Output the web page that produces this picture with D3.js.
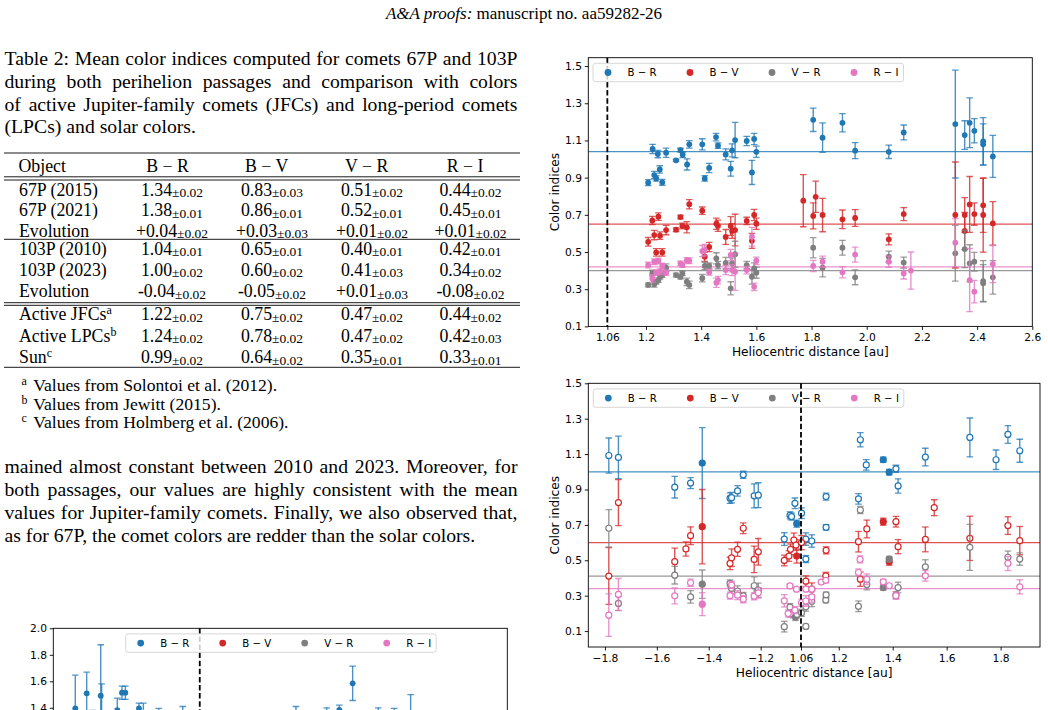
<!DOCTYPE html>
<html><head><meta charset="utf-8">
<script src="https://cdn.jsdelivr.net/npm/d3@7"></script>
<style>body{margin:0;background:#fff}svg{display:block}</style>
</head><body><svg id="page" width="1048" height="710"></svg>
<script>
// ---------------- DATA ----------------
const SERIES_KEYS = ["BR", "BV", "VR", "RI"];
const LEGEND_LABELS = ["B − R", "B − V", "V − R", "R − I"];
const SERIES_COLORS = ["#1f77b4", "#d62728", "#7f7f7f", "#e377c2"];

// Chart A: 103P 2010 passage  [heliocentric distance, colour, error]
const A_BR = [[1.208,0.873,0.016],[1.224,1.054,0.025],[1.230,0.914,0.02],[1.237,0.896,0.015],[1.243,1.027,0.02],[1.250,0.944,0.02],[1.259,0.875,0.016],[1.273,1.034,0.025],[1.309,0.993,0.006],[1.325,1.048,0.01],[1.333,1.023,0.015],[1.349,0.971,0.03],[1.357,1.079,0.02],[1.404,1.079,0.03],[1.413,0.896,0.015],[1.429,0.952,0.025],[1.454,1.118,0.02],[1.461,1.072,0.015],[1.489,1.025,0.03],[1.507,0.948,0.04],[1.512,1.047,0.035],[1.523,1.102,0.095],[1.565,1.097,0.025],[1.584,0.928,0.065],[1.592,1.108,0.03],[1.600,1.039,0.03],[1.806,1.211,0.063],[1.840,1.115,0.079],[1.912,1.195,0.049],[1.958,1.045,0.043],[2.080,1.039,0.036],[2.134,1.143,0.04],[2.321,1.188,0.29],[2.355,1.129,0.077],[2.373,1.195,0.134],[2.390,1.152,0.065],[2.422,1.095,0.128],[2.422,1.079,0.11],[2.457,1.014,0.113]];
const A_BV = [[1.208,0.555,0.023],[1.223,0.670,0.022],[1.230,0.591,0.025],[1.237,0.498,0.02],[1.245,0.690,0.02],[1.251,0.588,0.02],[1.259,0.498,0.02],[1.273,0.618,0.025],[1.309,0.620,0.01],[1.325,0.688,0.01],[1.332,0.640,0.015],[1.348,0.633,0.03],[1.357,0.757,0.025],[1.404,0.722,0.02],[1.413,0.475,0.025],[1.429,0.527,0.025],[1.455,0.652,0.03],[1.461,0.641,0.03],[1.489,0.581,0.04],[1.507,0.640,0.05],[1.512,0.613,0.04],[1.523,0.618,0.085],[1.565,0.667,0.02],[1.584,0.560,0.04],[1.592,0.699,0.03],[1.600,0.652,0.03],[1.770,0.776,0.14],[1.806,0.694,0.07],[1.815,0.797,0.084],[1.840,0.699,0.09],[1.912,0.676,0.05],[1.958,0.683,0.045],[2.080,0.568,0.03],[2.134,0.704,0.035],[2.321,0.699,0.285],[2.355,0.699,0.093],[2.355,0.613,0.1],[2.373,0.756,0.15],[2.390,0.704,0.06],[2.422,0.751,0.145],[2.422,0.699,0.2],[2.457,0.654,0.117]];
const A_VR = [[1.208,0.323,0.01],[1.223,0.387,0.015],[1.230,0.326,0.015],[1.237,0.340,0.012],[1.245,0.349,0.012],[1.251,0.367,0.012],[1.259,0.376,0.012],[1.273,0.416,0.02],[1.309,0.376,0.01],[1.325,0.366,0.01],[1.332,0.385,0.012],[1.348,0.340,0.02],[1.357,0.323,0.02],[1.404,0.359,0.02],[1.413,0.425,0.02],[1.429,0.426,0.015],[1.455,0.466,0.03],[1.461,0.430,0.02],[1.489,0.441,0.03],[1.507,0.305,0.035],[1.512,0.439,0.03],[1.523,0.488,0.07],[1.565,0.430,0.02],[1.584,0.367,0.04],[1.592,0.412,0.03],[1.600,0.389,0.03],[1.806,0.523,0.054],[1.840,0.416,0.05],[1.912,0.523,0.04],[1.958,0.364,0.04],[2.080,0.475,0.03],[2.134,0.443,0.03],[2.321,0.493,0.15],[2.355,0.516,0.1],[2.373,0.439,0.1],[2.390,0.448,0.05],[2.422,0.344,0.11],[2.422,0.332,0.1],[2.457,0.364,0.09]];
const A_RI = [[1.208,0.430,0.015],[1.223,0.358,0.02],[1.230,0.448,0.015],[1.237,0.389,0.015],[1.245,0.452,0.015],[1.251,0.394,0.015],[1.259,0.425,0.015],[1.273,0.389,0.015],[1.325,0.439,0.012],[1.332,0.430,0.012],[1.348,0.455,0.015],[1.357,0.453,0.015],[1.404,0.505,0.03],[1.413,0.511,0.03],[1.429,0.391,0.015],[1.455,0.335,0.025],[1.461,0.349,0.02],[1.489,0.403,0.025],[1.507,0.484,0.03],[1.512,0.403,0.03],[1.523,0.394,0.1],[1.565,0.403,0.02],[1.584,0.582,0.05],[1.592,0.313,0.02],[1.600,0.453,0.02],[1.806,0.425,0.03],[1.840,0.448,0.03],[1.912,0.391,0.03],[1.958,0.486,0.04],[2.080,0.448,0.03],[2.134,0.385,0.03],[2.160,0.400,0.1],[2.321,0.550,0.13],[2.373,0.349,0.17],[2.390,0.287,0.06],[2.457,0.435,0.1]];
const A_MEANS = [1.04, 0.65, 0.40, 0.42];
const A_XTICKS = [1.06, 1.2, 1.4, 1.6, 1.8, 2.0, 2.2, 2.4, 2.6];
const A_YTICKS = [0.1, 0.3, 0.5, 0.7, 0.9, 1.1, 1.3, 1.5];

// Chart B: 103P 2023 passage [signed distance (pre-perihelion < 0), colour, error, filled]
const B_BR = [[-1.785,1.092,0.099,0],[-1.748,1.081,0.12,0],[-1.531,0.913,0.061,0],[-1.470,0.936,0.031,0],[-1.425,1.049,0.2,1],[-1.318,0.851,0.03,0],[-1.312,0.854,0.03,0],[-1.289,0.892,0.03,0],[-1.267,0.983,0.02,0],[-1.225,0.864,0.068,0],[-1.209,0.868,0.07,0],[-1.109,0.620,0.036,0],[-1.087,0.754,0.02,0],[-1.081,0.747,0.02,0],[-1.068,0.822,0.03,0],[-1.061,0.707,0.02,1],[1.062,0.766,0.03,0],[1.078,0.620,0.035,0],[1.100,0.609,0.035,0],[1.078,0.507,0.02,0],[1.153,0.860,0.02,0],[1.153,0.686,0.015,0],[1.280,1.181,0.04,0],[1.273,0.847,0.03,0],[1.302,1.039,0.03,0],[1.365,1.068,0.015,1],[1.387,0.998,0.015,1],[1.412,1.017,0.02,0],[1.420,0.920,0.04,0],[1.521,1.083,0.05,0],[1.686,1.194,0.11,0],[1.783,1.068,0.055,0],[1.827,1.211,0.05,0],[1.871,1.119,0.065,0]];
const B_BV = [[-1.785,0.411,0.16,0],[-1.748,0.826,0.13,0],[-1.531,0.492,0.077,0],[-1.488,0.564,0.04,0],[-1.470,0.639,0.05,0],[-1.425,0.690,0.21,1],[-1.318,0.482,0.035,0],[-1.312,0.514,0.05,0],[-1.289,0.562,0.04,0],[-1.267,0.681,0.03,0],[-1.225,0.505,0.075,0],[-1.209,0.548,0.075,0],[-1.109,0.499,0.03,0],[-1.091,0.524,0.03,0],[-1.085,0.562,0.03,0],[-1.072,0.614,0.04,0],[-1.064,0.586,0.03,0],[-1.061,0.524,0.04,1],[1.062,0.600,0.04,0],[1.078,0.382,0.03,0],[1.100,0.337,0.035,0],[1.153,0.556,0.02,0],[1.152,0.412,0.02,0],[1.273,0.605,0.058,0],[1.280,0.393,0.04,0],[1.304,0.677,0.05,0],[1.365,0.718,0.02,1],[1.387,0.492,0.02,1],[1.412,0.718,0.03,0],[1.420,0.577,0.04,0],[1.521,0.618,0.07,0],[1.554,0.797,0.045,0],[1.686,0.624,0.125,0],[1.827,0.696,0.05,0],[1.871,0.611,0.08,0]];
const B_VR = [[-1.785,0.681,0.105,0],[-1.748,0.256,0.04,0],[-1.531,0.416,0.05,0],[-1.470,0.293,0.035,0],[-1.425,0.365,0.08,1],[-1.318,0.369,0.02,0],[-1.312,0.341,0.03,0],[-1.289,0.325,0.03,0],[-1.267,0.299,0.02,0],[-1.225,0.356,0.05,0],[-1.209,0.331,0.04,0],[-1.109,0.125,0.03,0],[-1.087,0.235,0.02,0],[-1.085,0.200,0.02,0],[-1.075,0.195,0.02,0],[-1.066,0.180,0.02,1],[-1.060,0.194,0.02,0],[1.062,0.203,0.02,0],[1.078,0.237,0.025,0],[1.078,0.126,0.012,0],[1.100,0.268,0.03,0],[1.152,0.275,0.015,0],[1.153,0.305,0.015,0],[1.273,0.240,0.03,0],[1.280,0.784,0.02,0],[1.304,0.363,0.03,0],[1.365,0.346,0.015,1],[1.387,0.507,0.015,1],[1.412,0.303,0.02,0],[1.420,0.346,0.03,0],[1.521,0.463,0.04,0],[1.686,0.573,0.13,0],[1.827,0.517,0.035,0],[1.871,0.507,0.035,0]];
const B_RI = [[-1.785,0.190,0.12,0],[-1.748,0.307,0.09,0],[-1.531,0.299,0.045,0],[-1.470,0.373,0.02,0],[-1.425,0.252,0.065,1],[-1.318,0.300,0.02,0],[-1.312,0.360,0.02,0],[-1.289,0.303,0.025,0],[-1.267,0.280,0.02,0],[-1.225,0.297,0.02,0],[-1.209,0.316,0.03,0],[-1.109,0.271,0.035,0],[-1.094,0.199,0.02,0],[-1.087,0.355,0.01,0],[-1.068,0.218,0.02,0],[-1.062,0.337,0.01,0],[1.062,0.260,0.02,0],[1.078,0.337,0.01,0],[1.078,0.270,0.03,0],[1.100,0.337,0.01,0],[1.100,0.293,0.03,0],[1.135,0.377,0.01,0],[1.152,0.387,0.015,0],[1.273,0.431,0.02,0],[1.279,0.505,0.02,0],[1.304,0.393,0.03,0],[1.365,0.378,0.015,0],[1.387,0.356,0.01,0],[1.412,0.300,0.02,0],[1.521,0.412,0.03,0],[1.827,0.482,0.04,0],[1.871,0.350,0.04,0]];
const B_MEANS = [1.00, 0.60, 0.41, 0.34];
const B_XTICKS = [-1.8, -1.6, -1.4, -1.2, 1.06, 1.2, 1.4, 1.6, 1.8];
const B_YTICKS = [0.1, 0.3, 0.5, 0.7, 0.9, 1.1, 1.3, 1.5];

// Chart C (only its top is visible on the page, 67P): [offset from perihelion line, B-R, error]
const C_BR = [[-0.85,1.396,0.25],[-0.772,1.509,0.16],[-0.731,1.30,0.08],[-0.676,1.491,0.385],[-0.67,1.36,0.22],[-0.563,1.383,0.09],[-0.531,1.514,0.05],[-0.508,1.514,0.05],[-0.415,1.396,0.04],[-0.385,1.36,0.075],[-0.28,1.30,0.095],[-0.116,1.30,0.11],[0.657,1.33,0.08],[0.867,1.34,0.06],[0.953,1.385,0.035],[1.044,1.585,0.13],[1.219,1.34,0.06],[1.328,1.36,0.035],[1.44,1.30,0.2]];
const C_YTICKS = [1.4, 1.6, 1.8, 2.0];

// Text content
const HEADER_ITALIC = "A&A proofs:";
const HEADER_REST = " manuscript no. aa59282-26";
const CAPTION_LINES = ["Table 2: Mean color indices computed for comets 67P and 103P",
  "during both perihelion passages and comparison with colors",
  "of active Jupiter-family comets (JFCs) and long-period comets",
  "(LPCs) and solar colors."];
const BODY_LINES = ["mained almost constant between 2010 and 2023. Moreover, for",
  "both passages, our values are highly consistent with the mean",
  "values for Jupiter-family comets. Finally, we also observed that,",
  "as for 67P, the comet colors are redder than the solar colors."];
const TABLE_HEAD = ["Object", "B − R", "B − V", "V − R", "R − I"];
const TABLE_OBJECTS = [["67P (2015)",""],["67P (2021)",""],["Evolution",""],["103P (2010)",""],["103P (2023)",""],["Evolution",""],["Active JFCs","a"],["Active LPCs","b"],["Sun","c"]];
const TABLE_VALUES = [
  [["1.34","0.02"],["0.83","0.03"],["0.51","0.02"],["0.44","0.02"]],
  [["1.38","0.01"],["0.86","0.01"],["0.52","0.01"],["0.45","0.01"]],
  [["+0.04","0.02"],["+0.03","0.03"],["+0.01","0.02"],["+0.01","0.02"]],
  [["1.04","0.01"],["0.65","0.01"],["0.40","0.01"],["0.42","0.01"]],
  [["1.00","0.02"],["0.60","0.02"],["0.41","0.03"],["0.34","0.02"]],
  [["-0.04","0.02"],["-0.05","0.02"],["+0.01","0.03"],["-0.08","0.02"]],
  [["1.22","0.02"],["0.75","0.02"],["0.47","0.02"],["0.44","0.02"]],
  [["1.24","0.02"],["0.78","0.02"],["0.47","0.02"],["0.42","0.03"]],
  [["0.99","0.02"],["0.64","0.02"],["0.35","0.01"],["0.33","0.01"]]];
const FOOTNOTES = [["a","Values from Solontoi et al. (2012)."],["b","Values from Jewitt (2015)."],["c","Values from Holmberg et al. (2006)."]];

// ---------------- DRAW ----------------
const svg = d3.select("#page");
const SERIF = "'Liberation Serif','Times New Roman',serif";
const SANS = "'DejaVu Sans',sans-serif";

// header
svg.append("text").attr("x", 524).attr("y", 19).attr("text-anchor", "middle")
  .style("font-family", SERIF).style("font-size", "17px")
  .call(t => { t.append("tspan").style("font-style", "italic").text(HEADER_ITALIC); t.append("tspan").text(HEADER_REST); });

function textLine(str, x, y, w, size, justify) {
  if (!justify) {
    svg.append("text").attr("x", x).attr("y", y).style("font-family", SERIF).style("font-size", size + "px").text(str);
    return;
  }
  const words = str.split(" ");
  const nodes = words.map(wd => svg.append("text").attr("y", y).style("font-family", SERIF).style("font-size", size + "px").text(wd));
  const widths = nodes.map(n => n.node().getComputedTextLength());
  const gap = (w - d3.sum(widths)) / (words.length - 1);
  let cx = x;
  nodes.forEach((n, i) => { n.attr("x", cx); cx += widths[i] + gap; });
}
CAPTION_LINES.forEach((l, i) => textLine(l, 4.5, 65 + i * 22.8, 513, 19.7, i < CAPTION_LINES.length - 1));
BODY_LINES.forEach((l, i) => textLine(l, 4.5, 472.5 + i * 23, 513, 19.7, i < BODY_LINES.length - 1));

// table
const TBL_SIZE = 17.8;
const colCenters = [172, 272, 372, 470.5];
const headCenters = [167.5, 266.7, 366.7, 465];
const rowBase = [195.5, 216, 236.5, 254.5, 275.5, 297, 320, 341.5, 363];
[153, 176.8, 180, 239.3, 302.7, 305.3, 367.3].forEach(yy =>
  svg.append("line").attr("x1", 4).attr("x2", 520).attr("y1", yy).attr("y2", yy).attr("stroke", "#000").attr("stroke-width", 0.9));
svg.append("text").attr("x", 18.5).attr("y", 171.5).style("font-family", SERIF).style("font-size", TBL_SIZE + "px").text(TABLE_HEAD[0]);
TABLE_HEAD.slice(1).forEach((h, i) => svg.append("text").attr("x", headCenters[i]).attr("y", 171.5).attr("text-anchor", "middle")
  .style("font-family", SERIF).style("font-size", TBL_SIZE + "px").text(h));
TABLE_OBJECTS.forEach(([name, sup], r) => {
  const t = svg.append("text").attr("x", 19).attr("y", rowBase[r]).style("font-family", SERIF).style("font-size", TBL_SIZE + "px");
  t.append("tspan").text(name);
  if (sup) t.append("tspan").attr("dy", -6).style("font-size", "12px").text(sup);
  TABLE_VALUES[r].forEach(([v, e], c) => {
    const tv = svg.append("text").attr("x", colCenters[c]).attr("y", rowBase[r]).attr("text-anchor", "middle")
      .style("font-family", SERIF).style("font-size", TBL_SIZE + "px");
    tv.append("tspan").text(v);
    tv.append("tspan").attr("dy", 1.5).style("font-size", "13.5px").text("±" + e);
  });
});
FOOTNOTES.forEach(([s, txt], i) => {
  const yy = 391 + i * 18.5;
  svg.append("text").attr("x", 21.5).attr("y", yy - 6).style("font-family", SERIF).style("font-size", "12px").text(s);
  svg.append("text").attr("x", 33.3).attr("y", yy).style("font-family", SERIF).style("font-size", "17.6px").text(txt);
});

// charts
function drawChart(cfg) {
  const { x, y, x0, x1, y0, y1 } = cfg;
  const g = svg.append("g");
  const clipId = "clip" + cfg.id;
  svg.append("clipPath").attr("id", clipId).append("rect").attr("x", x0).attr("y", y0).attr("width", x1 - x0).attr("height", y1 - y0);
  const plot = g.append("g").attr("clip-path", `url(#${clipId})`);
  if (cfg.means) cfg.means.forEach((m, i) => plot.append("line").attr("x1", x0).attr("x2", x1).attr("y1", y(m)).attr("y2", y(m))
    .attr("stroke", SERIES_COLORS[i]).attr("stroke-width", 1.2).attr("stroke-opacity", 0.8));
  const drawDash = () => g.append("line").attr("x1", x(cfg.dashX)).attr("x2", x(cfg.dashX)).attr("y1", y0).attr("y2", y1)
    .attr("stroke", "#000").attr("stroke-width", 1.8).attr("stroke-dasharray", "5.5,2.6");
  if (!cfg.dashOnTop) drawDash();
  cfg.series.forEach((data, i) => {
    if (!data) return;
    const col = SERIES_COLORS[i];
    const sg = plot.append("g");
    data.forEach(d => {
      const px = x(d[0]), pt = y(d[1] + d[2]), pb = y(d[1] - d[2]);
      sg.append("line").attr("x1", px).attr("x2", px).attr("y1", pt).attr("y2", pb).attr("stroke", col).attr("stroke-width", 1.4).attr("stroke-opacity", 0.8);
      [pt, pb].forEach(py => sg.append("line").attr("x1", px - 3.3).attr("x2", px + 3.3).attr("y1", py).attr("y2", py)
        .attr("stroke", col).attr("stroke-width", 1.3).attr("stroke-opacity", 0.75));
    });
    sg.selectAll("circle").data(data).join("circle")
      .attr("cx", d => x(d[0])).attr("cy", d => y(d[1])).attr("r", cfg.open ? 3 : 2.9)
      .attr("fill", d => (!cfg.open || d[3]) ? col : "#fff")
      .attr("stroke", col).attr("stroke-width", cfg.open ? 1.2 : 0);
  });
  g.append("rect").attr("x", x0).attr("y", y0).attr("width", x1 - x0).attr("height", y1 - y0)
    .attr("fill", "none").attr("stroke", "#000").attr("stroke-width", 0.9);
  const yAx = g.append("g").attr("transform", `translate(${x0},0)`)
    .call(d3.axisLeft(y).tickValues(cfg.yticks).tickSize(3.5).tickPadding(2.8).tickFormat(d3.format(".1f")));
  const axes = [yAx];
  if (cfg.xticks) {
    const xAx = g.append("g").attr("transform", `translate(0,${y1})`)
      .call(d3.axisBottom(x).tickValues(cfg.xticks).tickSize(3.5).tickPadding(3.5)
        .tickFormat(d => Math.abs(d) === 1.06 ? d3.format(".2f")(d) : d3.format(".1f")(d)));
    axes.push(xAx);
    g.append("text").attr("x", (x0 + x1) / 2).attr("y", y1 + 29.5).attr("text-anchor", "middle")
      .style("font-family", SANS).style("font-size", "12.2px").text("Heliocentric distance [au]");
  }
  axes.forEach(a => {
    a.select(".domain").remove();
    a.selectAll("line").attr("stroke", "#000").attr("stroke-width", 0.9);
    a.selectAll("text").style("font-family", SANS).style("font-size", "10.7px").attr("fill", "#000");
  });
  if (cfg.ylabel) {
    const cy = (y0 + y1) / 2;
    g.append("text").attr("transform", `translate(${x0 - 29},${cy}) rotate(-90)`).attr("text-anchor", "middle")
      .style("font-family", SANS).style("font-size", "12.2px").text("Color indices");
  }
  const lx = cfg.legendX, ly = y0 + 5.6, lw = 310.5, lh = 18.4;
  const lg = g.append("g");
  lg.append("rect").attr("x", lx).attr("y", ly).attr("width", lw).attr("height", lh).attr("rx", 2.5)
    .attr("fill", "#fff").attr("fill-opacity", 0.8).attr("stroke", "#d3d3d3").attr("stroke-width", 0.9);
  LEGEND_LABELS.forEach((lab, i) => {
    lg.append("circle").attr("cx", lx + 15 + i * 82).attr("cy", ly + lh / 2).attr("r", 3.4).attr("fill", SERIES_COLORS[i]);
    lg.append("text").attr("x", lx + 34.5 + i * 82).attr("y", ly + lh / 2 + 3.7)
      .style("font-family", SANS).style("font-size", "10.2px").text(lab);
  });
  if (cfg.dashOnTop) drawDash();
}

drawChart({
  id: "A",
  x: d3.scaleLinear().domain([0.991, 2.6]).range([588.3, 1032.3]),
  y: d3.scaleLinear().domain([0.1, 1.545]).range([326.4, 57.7]),
  x0: 588.3, x1: 1032.3, y0: 57.7, y1: 326.4,
  series: [A_BR, A_BV, A_VR, A_RI], means: A_MEANS,
  xticks: A_XTICKS, yticks: A_YTICKS, dashX: 1.06, legendX: 593, open: false, dashOnTop: false, ylabel: true
});
drawChart({
  id: "B",
  x: d3.scaleLinear().domain([-1.864, -1.06, 1.06, 1.946]).range([588.3, 797, 801, 1040]),
  y: d3.scaleLinear().domain([0.01, 1.5]).range([647, 383.3]),
  x0: 588.3, x1: 1040, y0: 383.3, y1: 647,
  series: [B_BR, B_BV, B_VR, B_RI], means: B_MEANS,
  xticks: B_XTICKS, yticks: B_YTICKS, dashX: 1.06, legendX: 593.3, open: true, dashOnTop: true, ylabel: true
});
drawChart({
  id: "C",
  x: d3.scaleLinear().domain([-1.0, 2.1]).range([53.3, 507.3]),
  y: d3.scaleLinear().domain([0.0, 2.0]).range([893.3, 628.3]),
  x0: 53.3, x1: 507.3, y0: 628.3, y1: 893.3,
  series: [C_BR, null, null, null], means: null,
  xticks: null, yticks: C_YTICKS, dashX: 0, legendX: 125.7, open: false, dashOnTop: false, ylabel: false
});
</script></body></html>
